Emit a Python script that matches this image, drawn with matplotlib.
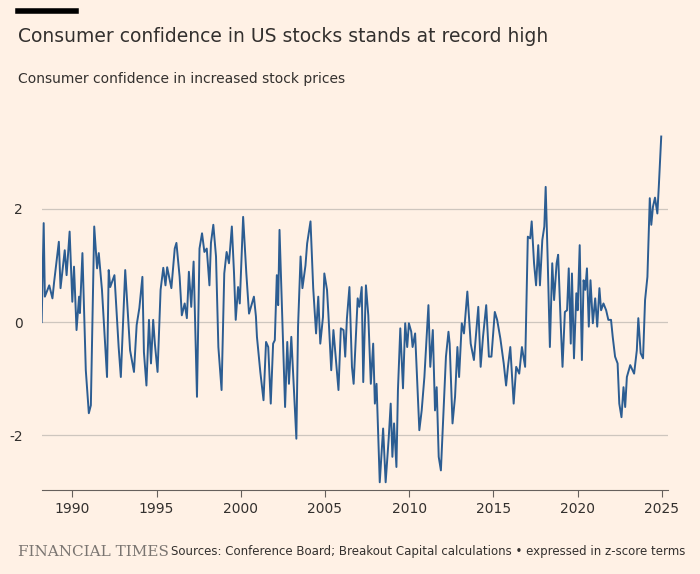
"""
Consumer confidence in US stocks (FT style line chart)
"""

import matplotlib.pyplot as plt
from matplotlib.lines import Line2D

# decimal year, z-score
years = [1988.18, 1988.3, 1988.37, 1988.63, 1988.82, 1988.92, 1989.2, 1989.3, 1989.55, 1989.66,
         1989.84, 1990.0, 1990.1, 1990.25, 1990.4, 1990.45, 1990.6, 1990.8, 1990.98, 1991.1,
         1991.3, 1991.47, 1991.57, 1991.76, 1992.06, 1992.16, 1992.25, 1992.5, 1992.75, 1992.88,
         1993.14, 1993.43, 1993.66, 1993.82, 1993.98, 1994.16, 1994.25, 1994.4, 1994.55, 1994.67,
         1994.8, 1994.9, 1995.06, 1995.24, 1995.4, 1995.53, 1995.63, 1995.88, 1996.08, 1996.18,
         1996.37, 1996.5, 1996.67, 1996.8, 1996.92, 1997.06, 1997.2, 1997.4, 1997.55, 1997.7,
         1997.84, 1997.98, 1998.14, 1998.23, 1998.37, 1998.53, 1998.67, 1998.86, 1999.02, 1999.16,
         1999.3, 1999.47, 1999.6, 1999.7, 1999.84, 1999.94, 2000.14, 2000.33, 2000.49, 2000.78,
         2000.9, 2000.96, 2001.16, 2001.35, 2001.5, 2001.63, 2001.78, 2001.92, 2002.02, 2002.14,
         2002.22, 2002.3, 2002.43, 2002.63, 2002.76, 2002.86, 2003.0, 2003.3, 2003.4, 2003.55,
         2003.66, 2003.84, 2003.94, 2004.14, 2004.3, 2004.47, 2004.6, 2004.72, 2004.88, 2004.96,
         2005.12, 2005.2, 2005.37, 2005.5, 2005.65, 2005.8, 2005.94, 2006.1, 2006.2, 2006.3,
         2006.45, 2006.6, 2006.7, 2006.82, 2006.94, 2007.04, 2007.18, 2007.27, 2007.43, 2007.57,
         2007.72, 2007.86, 2007.96, 2008.06, 2008.25, 2008.45, 2008.6, 2008.78, 2008.9, 2009.0,
         2009.1, 2009.24, 2009.33, 2009.47, 2009.63, 2009.76, 2009.88, 2009.98, 2010.12, 2010.2,
         2010.35, 2010.5, 2010.6, 2010.74, 2010.9, 2011.0, 2011.14, 2011.25, 2011.4, 2011.53,
         2011.63, 2011.75, 2011.88, 2012.02, 2012.18, 2012.33, 2012.4, 2012.57, 2012.72, 2012.86,
         2012.96, 2013.12, 2013.25, 2013.45, 2013.65, 2013.84, 2014.1, 2014.24, 2014.38, 2014.57,
         2014.73, 2014.88, 2015.08, 2015.22, 2015.41, 2015.61, 2015.75, 2015.86, 2016.0, 2016.2,
         2016.35, 2016.53, 2016.69, 2016.88, 2017.04, 2017.18, 2017.27, 2017.41, 2017.53, 2017.66,
         2017.76, 2017.9, 2018.02, 2018.1, 2018.22, 2018.35, 2018.49, 2018.6, 2018.75, 2018.84,
         2019.0, 2019.1, 2019.24, 2019.37, 2019.47, 2019.59, 2019.66, 2019.78, 2019.92, 2020.0,
         2020.12, 2020.25, 2020.35, 2020.45, 2020.55, 2020.66, 2020.76, 2020.9, 2021.04, 2021.16,
         2021.29, 2021.39, 2021.53, 2021.69, 2021.82, 2021.98, 2022.08, 2022.22, 2022.37, 2022.47,
         2022.6, 2022.72, 2022.82, 2022.92, 2023.12, 2023.35, 2023.51, 2023.6, 2023.74, 2023.88,
         2024.0, 2024.14, 2024.28, 2024.37, 2024.47, 2024.59, 2024.73, 2024.82, 2024.96]
zscore = [0.0, 1.75, 0.45, 0.65, 0.42, 0.71, 1.42, 0.6, 1.27, 0.83,
          1.6, 0.36, 0.98, -0.14, 0.45, 0.16, 1.22, -0.85, -1.61, -1.47,
          1.69, 0.95, 1.22, 0.57, -0.97, 0.92, 0.62, 0.83, -0.44, -0.97,
          0.92, -0.5, -0.88, -0.05, 0.25, 0.8, -0.53, -1.12, 0.04, -0.73,
          0.04, -0.38, -0.88, 0.57, 0.96, 0.65, 0.97, 0.6, 1.3, 1.4,
          0.8, 0.12, 0.33, 0.07, 0.89, 0.27, 1.07, -1.32, 1.3, 1.57,
          1.24, 1.3, 0.65, 1.4, 1.72, 1.16, -0.44, -1.2, 0.86, 1.24,
          1.04, 1.69, 0.86, 0.04, 0.62, 0.33, 1.86, 0.86, 0.15, 0.45,
          0.1, -0.26, -0.88, -1.38, -0.35, -0.44, -1.44, -0.38, -0.32, 0.83,
          0.3, 1.63, 0.39, -1.5, -0.35, -1.09, -0.26, -2.06, -0.08, 1.16,
          0.6, 1.0, 1.39, 1.78, 0.6, -0.2, 0.45, -0.38, 0.09, 0.86,
          0.57, 0.15, -0.85, -0.14, -0.67, -1.2, -0.11, -0.14, -0.61, 0.06,
          0.62, -0.79, -1.09, -0.32, 0.42, 0.27, 0.62, -1.06, 0.65, 0.12,
          -1.09, -0.38, -1.44, -1.09, -2.83, -1.88, -2.83, -2.06, -1.44, -2.38,
          -1.79, -2.56, -1.2, -0.11, -1.17, -0.02, -0.44, -0.02, -0.17, -0.44,
          -0.2, -1.23, -1.91, -1.56, -0.97, -0.44, 0.3, -0.79, -0.14, -1.56,
          -1.15, -2.38, -2.62, -1.68, -0.61, -0.17, -0.38, -1.79, -1.32, -0.44,
          -0.97, -0.02, -0.2, 0.54, -0.38, -0.67, 0.27, -0.79, -0.26, 0.3,
          -0.61, -0.61, 0.18, 0.04, -0.29, -0.73, -1.12, -0.79, -0.44, -1.44,
          -0.79, -0.91, -0.44, -0.79, 1.51, 1.48, 1.78, 1.04, 0.65, 1.36,
          0.65, 1.45, 1.69, 2.39, 1.1, -0.44, 1.04, 0.39, 1.04, 1.19,
          -0.08, -0.79, 0.18, 0.21, 0.95, -0.38, 0.86, -0.64, 0.51, 0.21,
          1.36, -0.67, 0.74, 0.57, 0.95, -0.08, 0.74, -0.02, 0.42, -0.08,
          0.6, 0.21, 0.33, 0.21, 0.04, 0.04, -0.26, -0.61, -0.73, -1.44,
          -1.68, -1.15, -1.5, -0.97, -0.76, -0.91, -0.5, 0.07, -0.55, -0.64,
          0.39, 0.8, 2.19, 1.72, 2.04, 2.2, 1.92, 2.42, 3.28]

xticks = [1990, 1995, 2000, 2005, 2010, 2015, 2020, 2025]
yticks = [-2, 0, 2]

bg = '#FFF1E5'
line_c = '#2C5D92'
grid_c = '#CEC6BE'
text_c = '#33302E'

fig = plt.figure(figsize=(7, 5.74), dpi=100, facecolor=bg)
ax = fig.add_axes([0.06, 0.146, 0.894, 0.628], facecolor=bg)

ax.plot(years, zscore, color=line_c, lw=1.4)

ax.set_xlim(1988.2, 2025.35)
ax.set_ylim(-2.97, 3.4)
ax.set_yticks(yticks)
ax.set_yticklabels([str(t) for t in yticks])
ax.set_xticks(xticks)
ax.grid(axis='y', color=grid_c, lw=0.9)
ax.set_axisbelow(True)
for s in ['top', 'right', 'left']:
    ax.spines[s].set_visible(False)
ax.spines['bottom'].set_color('#66605C')
ax.tick_params(axis='y', length=0, pad=14, labelsize=10, labelcolor=text_c)
ax.tick_params(axis='x', length=5, color='#66605C', labelsize=10, labelcolor=text_c)

# header and footer
fig.add_artist(Line2D([18/700, 76/700], [1-11/574]*2, color='black', lw=4))
fig.text(18/700, 1-37/574, 'Consumer confidence in US stocks stands at record high',
         fontsize=13.5, color=text_c, va='center')
fig.text(18/700, 1-79/574, 'Consumer confidence in increased stock prices',
         fontsize=10, color=text_c, va='center')
fig.text(18/700, 1-552/574, 'FINANCIAL TIMES', fontsize=11, family='serif',
         color='#7A7571', va='center')
fig.text(685/700, 1-552/574,
         'Sources: Conference Board; Breakout Capital calculations \u2022 expressed in z-score terms',
         fontsize=8.5, color=text_c, va='center', ha='right')

plt.savefig('out.png', facecolor=bg)
